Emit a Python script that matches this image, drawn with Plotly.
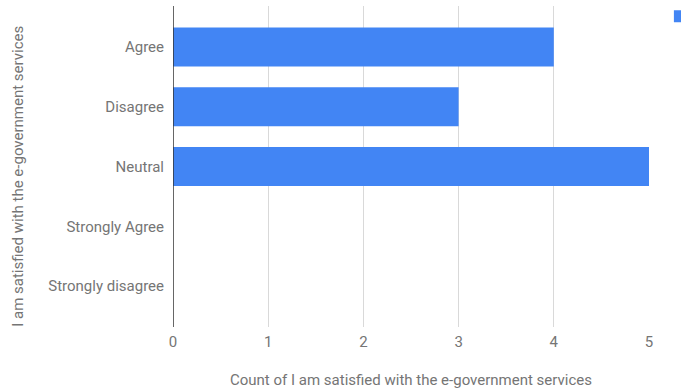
import plotly.graph_objects as go

categories = ["Agree", "Disagree", "Neutral", "Strongly Agree", "Strongly disagree"]
counts = [4, 3, 5, 0, 0]
x_ticks = [0, 1, 2, 3, 4, 5]

font_color = "#757575"
y_title = "I am satisfied with the e-government services"
x_title = "Count of I am satisfied with the e-government services"

fig = go.Figure()
fig.add_trace(go.Bar(
    y=categories, x=counts, orientation="h",
    marker=dict(color="#4285f4", line=dict(width=0)),
    width=0.65, name=" ", showlegend=True,
))

fig.update_layout(
    width=681, height=392,
    margin=dict(l=173, r=32, t=6, b=65, autoexpand=False),
    paper_bgcolor="white", plot_bgcolor="white",
    font=dict(family="Roboto", size=15, color=font_color),
    legend=dict(xref="container", yref="container", x=0.969, y=1.006, xanchor="left", yanchor="top",
                font=dict(size=15, color=font_color), bgcolor="rgba(0,0,0,0)"),
    xaxis=dict(
        range=[0, 5], tickvals=x_ticks, showgrid=True, gridcolor="#d9d9d9", gridwidth=1,
        zeroline=False, showline=False, ticks="", ticklabelstandoff=4,
        title=dict(text=x_title, standoff=24, font=dict(size=15, color=font_color)),
        tickfont=dict(size=15, color=font_color),
    ),
    yaxis=dict(
        type="category", categoryorder="array", categoryarray=categories,
        range=[4.686, -0.686], showgrid=False, zeroline=False,
        showline=False, ticks="", ticklabelstandoff=8,
        tickfont=dict(size=15, color=font_color),
    ),
)

fig.add_annotation(
    text=y_title, textangle=-90, showarrow=False,
    xref="paper", yref="paper", x=-(173 - 18) / 476, y=0.468,
    xanchor="center", yanchor="middle",
    font=dict(size=15, color=font_color),
)

fig.add_vline(x=0, line=dict(color="#333333", width=1.5))

fig.write_html("out.html")
